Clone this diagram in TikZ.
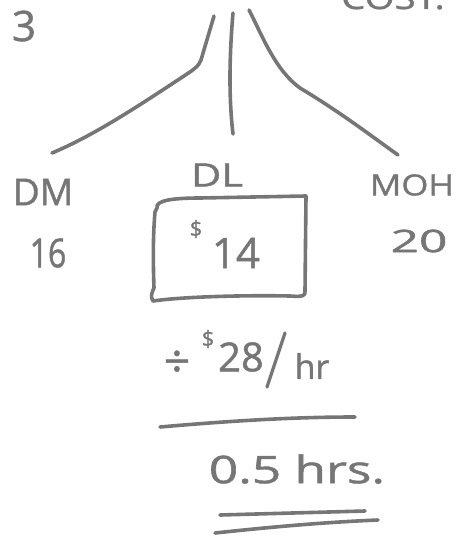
\documentclass[tikz,border=0pt]{standalone}
\usepackage{fontspec}
\setmainfont{Open Sans}[FakeBold=1.2]
\definecolor{pencil}{RGB}{118,118,118}
\tikzset{
  stroke/.style={draw=pencil, line width=3.6pt, line cap=round, line join=round},
  hand/.style={text=pencil, inner sep=0pt, font=\fontsize{40}{42}\selectfont},
  small/.style={text=pencil, inner sep=0pt, font=\fontsize{22}{24}\selectfont}
}
\begin{document}
\begin{tikzpicture}[x=1pt,y=-1pt]
\useasboundingbox (0,0) rectangle (466,538);
\clip (0,0) rectangle (466,538);

% heading
\node[hand, font=\fontsize{42}{44}\selectfont] (num) at (24,26) {3};
\node[hand, font=\fontsize{32}{34}\selectfont, xscale=1.2, anchor=base] (cost) at (393,9) {COST.};

% branch points
\coordinate (topL) at (214,16);
\coordinate (topM) at (233,13);
\coordinate (topR) at (249,10);
\coordinate (endL) at (52,153);
\coordinate (endM) at (233,134);
\coordinate (endR) at (398,155);

% branches
\draw[stroke] (topL) -- (201,60) .. controls (198,66) .. (190,72)
  .. controls (140,105) and (95,135) .. (endL);
\draw[stroke] (topM) .. controls (229,60) and (229,100) .. (endM);
\draw[stroke] (topR) .. controls (262,35) and (275,70) .. (300,88)
  .. controls (340,112) and (370,135) .. (endR);

% cost categories
\node[hand, font=\fontsize{37}{39}\selectfont] (dm) at (43,192) {DM};
\node[hand, font=\fontsize{32}{34}\selectfont, xscale=1.3] (dl) at (217,175) {DL};
\node[hand, font=\fontsize{29}{31}\selectfont, xscale=1.2] (moh) at (412,185) {MOH};
\node[hand, xscale=0.8] (dmv) at (48,253) {16};
\node[hand, font=\fontsize{31}{33}\selectfont, xscale=1.6] (mohv) at (419,241) {20};

% boxed direct labour amount
\node[hand, font=\fontsize{42}{44}\selectfont] (dlv) at (236,253) {14};
\node[small] (dlcur) at (196,229) {\$};
\draw[stroke] (157,208) .. controls (155,200) and (175,198) .. (200,198)
  -- (306,196) -- (305,291) .. controls (306,296) and (302,297) .. (290,296)
  .. controls (240,295) and (180,297) .. (153,301)
  .. controls (150,297) and (152,292) .. (154,288)
  .. controls (153,260) and (153,235) .. (155,212) -- cycle;

% division by the rate
\node[hand, font=\fontsize{46}{48}\selectfont] (div) at (177,364) {÷};
\node[small] (ratecur) at (208,339) {\$};
\node[hand] (rate) at (241,357) {28};
\draw[stroke, line width=3.2pt] (285,333) -- (267,387);
\node[hand, font=\fontsize{34}{36}\selectfont] (hr) at (312,366) {hr};
\draw[stroke] (160,427) .. controls (240,420) and (300,417) .. (355,417);

% result
\node[hand, font=\fontsize{38}{40}\selectfont, xscale=1.35] (res) at (297,469) {0.5 hrs.};
\draw[stroke] (220,515) -- (365,511);
\draw[stroke] (215,533) .. controls (280,526) and (330,522) .. (378,520);
\end{tikzpicture}
\end{document}
